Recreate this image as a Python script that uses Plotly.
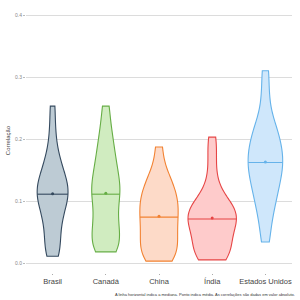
import math
import numpy as np
import plotly.graph_objects as go

categorias = ["Brasil", "Canadá", "China", "Índia", "Estados Unidos"]

brasil = [0.011, 0.018, 0.03, 0.045, 0.058, 0.07, 0.08, 0.089, 0.097, 0.104, 0.108,
          0.114, 0.119, 0.125, 0.131, 0.138, 0.146, 0.156, 0.168, 0.185, 0.215, 0.253]
canada = [0.018, 0.022, 0.027, 0.036, 0.046, 0.055, 0.064, 0.074, 0.085, 0.097, 0.109,
          0.113, 0.12, 0.13, 0.139, 0.149, 0.16, 0.172, 0.186, 0.202, 0.222, 0.253]
china = [0.003, 0.006, 0.012, 0.019, 0.026, 0.034, 0.042, 0.05, 0.058, 0.066, 0.074,
         0.081, 0.088, 0.095, 0.102, 0.109, 0.117, 0.126, 0.136, 0.15, 0.187]
india = [0.005, 0.008, 0.01, 0.016, 0.022, 0.029, 0.036, 0.043, 0.05, 0.057, 0.063, 0.07,
         0.072, 0.075, 0.078, 0.082, 0.086, 0.091, 0.097, 0.105, 0.118, 0.145, 0.177, 0.203]
eua = [0.034, 0.062, 0.082, 0.097, 0.109, 0.12, 0.13, 0.139, 0.147, 0.155, 0.162,
       0.169, 0.177, 0.185, 0.193, 0.202, 0.212, 0.223, 0.24, 0.272, 0.31]

series = [brasil, canada, china, india, eua]

y_ticks = [0.0, 0.1, 0.2, 0.3, 0.4]
y_tick_labels = ["0.0", "0.1", "0.2", "0.3", "0.4"]

fill_colors = ["#bdcbd4", "#d0ecc0", "#fddac8", "#fecbcb", "#cfe7fb"]
line_colors = ["#34495e", "#66ad45", "#f28232", "#e64545", "#66b3ea"]
violin_widths = [0.58, 0.53, 0.72, 0.91, 0.65]
bandwidth = 0.022


def half_width_at(vals, bw, y, full_width):
    """Half width of a Plotly violin (scalemode='width', spanmode='hard') at value y."""
    v = np.asarray(vals, dtype=float)
    lo, hi = v.min(), v.max()
    n = math.ceil((hi - lo) / (bw / 3))
    grid = lo + (hi - lo) / n * np.arange(n + 1)
    dens = np.exp(-0.5 * ((grid[:, None] - v[None, :]) / bw) ** 2).sum(axis=1)
    return full_width / 2 * np.interp(y, grid, dens) / dens.max()


fig = go.Figure()
for i, (cat, vals, fc, lc, w) in enumerate(zip(categorias, series, fill_colors, line_colors, violin_widths)):
    fig.add_trace(go.Violin(
        x=[i] * len(vals), y=vals, name=cat,
        fillcolor=fc, line=dict(color=lc, width=1.1),
        spanmode="hard", scalemode="width", bandwidth=bandwidth,
        width=w, points=False, box_visible=False, meanline_visible=False,
        opacity=1, hoverinfo="skip", showlegend=False,
    ))
    med = float(np.median(vals))
    hw = half_width_at(vals, bandwidth, med, w)
    fig.add_trace(go.Scatter(
        x=[i - hw, i + hw], y=[med, med], mode="lines",
        line=dict(color=lc, width=1.1), showlegend=False, hoverinfo="skip",
    ))
    fig.add_trace(go.Scatter(
        x=[i], y=[float(np.mean(vals))], mode="markers",
        marker=dict(color=lc, size=3), showlegend=False, hoverinfo="skip",
    ))

fig.update_layout(
    width=300, height=300,
    margin=dict(l=23, r=8, t=8, b=27),
    paper_bgcolor="white", plot_bgcolor="white",
    violinmode="overlay",
    font=dict(family="Liberation Sans, Arial, sans-serif"),
    xaxis=dict(
        range=[-0.5, 4.5], tickvals=list(range(len(categorias))), ticktext=categorias,
        showgrid=False, zeroline=False, showline=False,
        ticks="outside", ticklen=1, tickcolor="#aaaaaa",
        tickfont=dict(size=7.5, color="#444444"),
    ),
    yaxis=dict(
        range=[-0.0161, 0.4113], tickvals=y_ticks, ticktext=y_tick_labels,
        showgrid=True, gridcolor="#dcdcdc", gridwidth=1, zeroline=False,
        ticks="outside", ticklen=2, tickcolor="#bbbbbb",
        tickfont=dict(size=5, color="#888888"),
        title=dict(text="Correlação", font=dict(size=6, color="#444444"), standoff=3),
    ),
    annotations=[dict(
        text="A linha horizontal indica a mediana. Ponto indica média. As correlações são dadas em valor absoluto.",
        xref="paper", yref="paper", x=1.02, y=-0.083, xanchor="right", yanchor="middle",
        showarrow=False, font=dict(size=4, color="#333333"),
    )],
)

fig.write_html("out.html")
